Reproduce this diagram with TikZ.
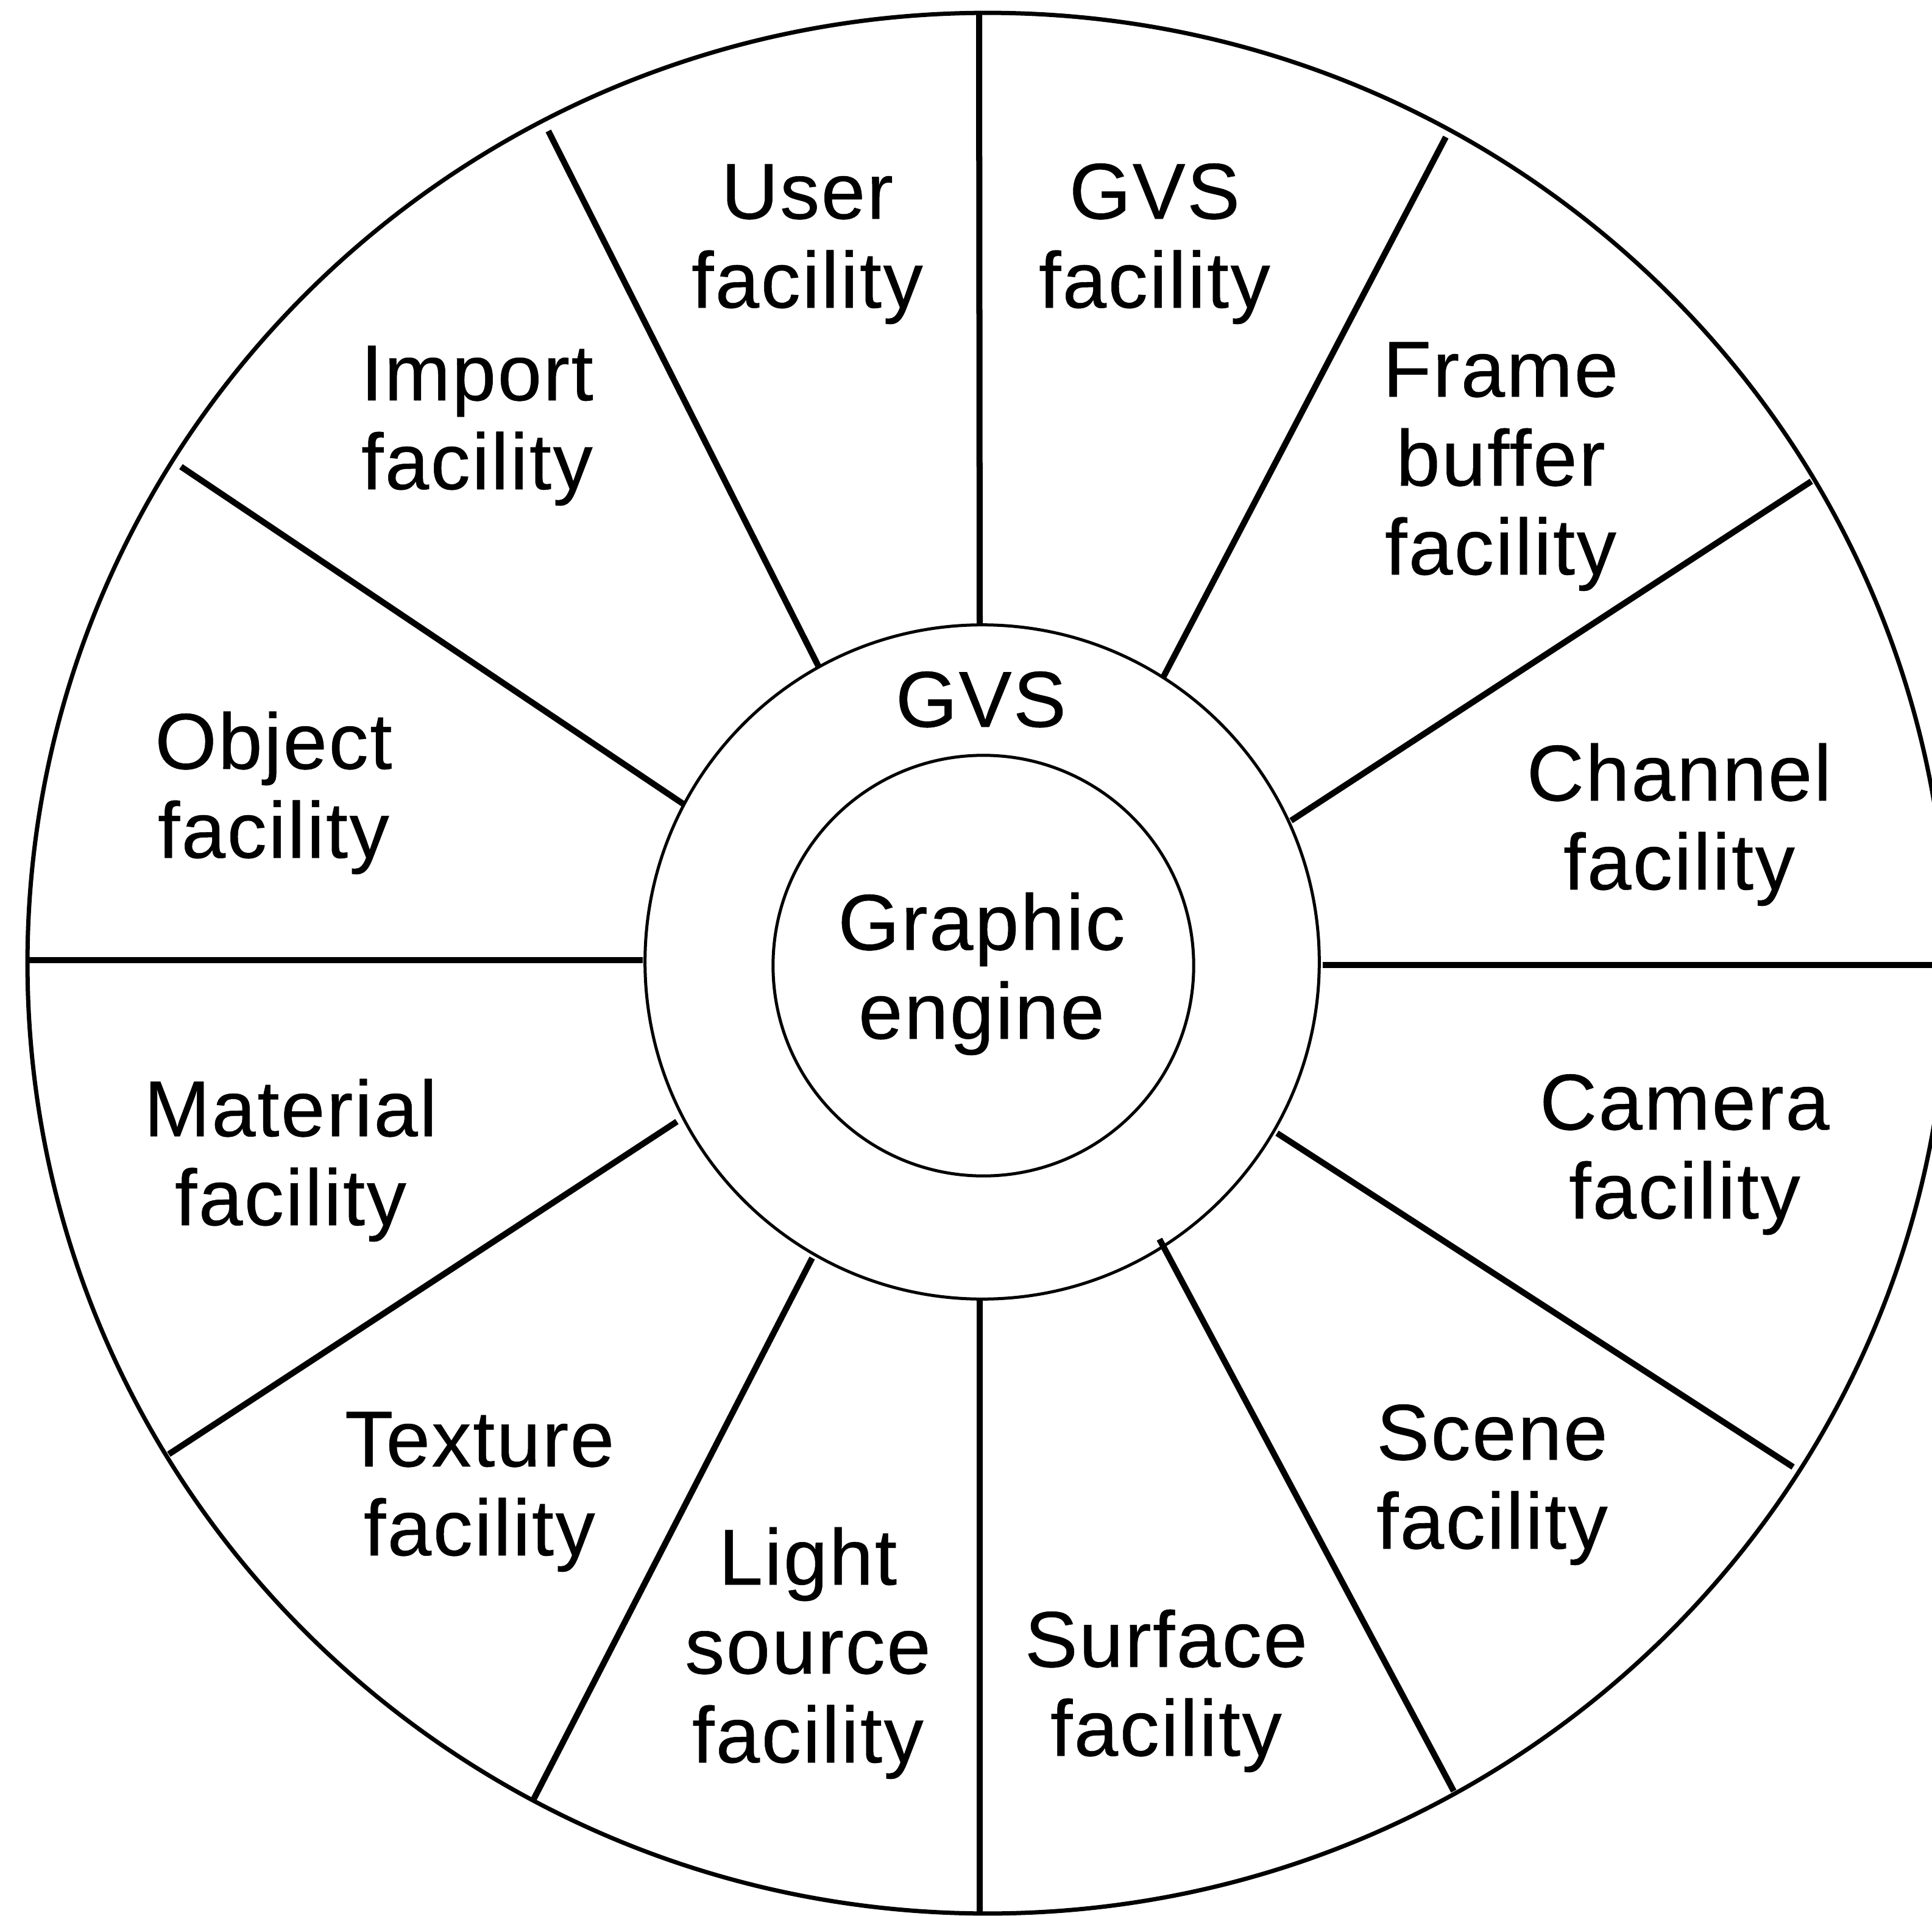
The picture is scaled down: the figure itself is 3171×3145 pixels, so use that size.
\documentclass[tikz,border=0pt]{standalone}
\usepackage{fontspec}
\setmainfont[LetterSpace=2, FakeBold=0.4]{Liberation Sans}
\begin{document}
\begin{tikzpicture}[x=0.01cm, y=-0.01cm,
  rim/.style={line width=0.07cm},
  ring/.style={line width=0.05cm},
  spoke/.style={line width=0.1cm},
  lbl/.style={align=center, anchor=base, inner sep=0pt,
              font=\fontsize{37pt}{41.5pt}\selectfont}]
  % page frame
  \fill[white] (0,0) rectangle (3171,3145);
  \useasboundingbox (0,0) rectangle (3171,3145);

  % rim, GVS ring and engine core
  \draw[rim]  (1621,1581) ellipse [x radius=15.75cm, y radius=15.59cm];
  \draw[ring] (1612,1579) circle [radius=5.53cm];
  \draw[ring] (1614,1585) circle [radius=3.45cm];

  % spoke end points: inner (on the GVS ring) and outer (on the rim)
  \coordinate (i1)  at (1608,1027); \coordinate (o1)  at (1607,22);
  \coordinate (i2)  at (1909,1112); \coordinate (o2)  at (2373,225);
  \coordinate (i3)  at (2119,1347); \coordinate (o3)  at (2973,790);
  \coordinate (i4)  at (2171,1584); \coordinate (o4)  at (3180,1584);
  \coordinate (i5)  at (2096,1860); \coordinate (o5)  at (2943,2408);
  \coordinate (i6)  at (1903,2034); \coordinate (o6)  at (2386,2940);
  \coordinate (i7)  at (1608,2131); \coordinate (o7)  at (1608,3140);
  \coordinate (i8)  at (1333,2065); \coordinate (o8)  at (874,2957);
  \coordinate (i9)  at (1111,1841); \coordinate (o9)  at (277,2387);
  \coordinate (i10) at (1055,1576); \coordinate (o10) at (46,1576);
  \coordinate (i11) at (1122,1320); \coordinate (o11) at (297,766);
  \coordinate (i12) at (1344,1095); \coordinate (o12) at (900,215);

  \foreach \k in {1,...,12}
    \draw[spoke] (i\k) -- (o\k);

  % facility labels (placed by the baseline of their last line)
  \node[lbl] (user)     at (1325,505)  {User\\facility};
  \node[lbl] (gvsfac)   at (1895,505)  {GVS\\facility};
  \node[lbl] (import)   at (783,803)   {Import\\facility};
  \node[lbl] (frame)    at (2463,943)  {Frame\\buffer\\facility};
  \node[lbl] (object)   at (449,1408)  {Object\\facility};
  \node[lbl] (channel)  at (2756,1460) {Channel\\facility};
  \node[lbl] (material) at (477,2011)  {Material\\facility};
  \node[lbl] (camera)   at (2765,2000) {Camera\\facility};
  \node[lbl] (texture)  at (787,2553)  {Texture\\facility};
  \node[lbl] (scene)    at (2449,2542) {Scene\\facility};
  \node[lbl] (light)    at (1326,2893) {Light\\source\\facility};
  \node[lbl] (surface)  at (1914,2882) {Surface\\facility};

  % centre labels
  \node[lbl] (gvs)      at (1610,1193) {GVS};
  \node[lbl] (engine)   at (1611,1705) {Graphic\\engine};
\end{tikzpicture}
\end{document}
